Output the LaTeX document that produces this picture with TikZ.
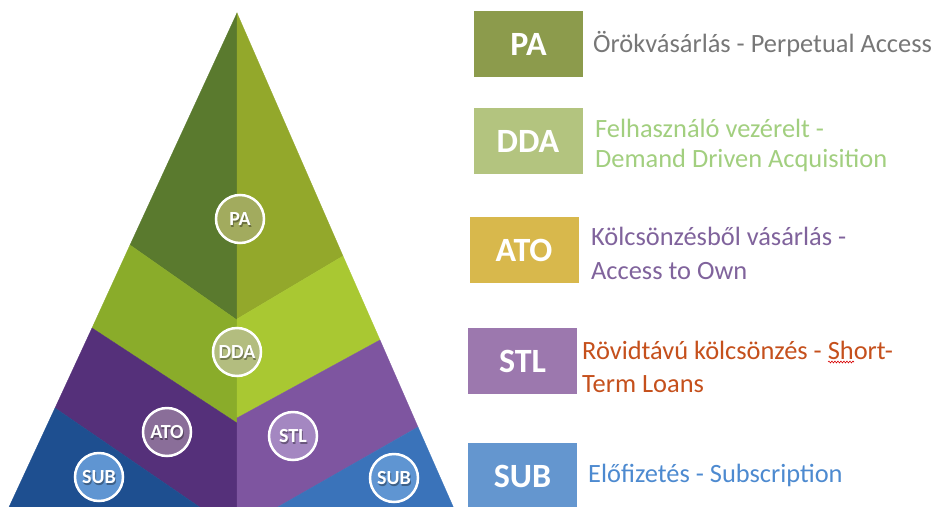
\documentclass[tikz,border=0pt]{standalone}
\usepackage{fontspec}
\setmainfont{Carlito}
\usetikzlibrary{decorations.pathmorphing}
\definecolor{paL}{HTML}{5A7A2E}
\definecolor{paR}{HTML}{93A82B}
\definecolor{ddaL}{HTML}{8AAC2A}
\definecolor{ddaR}{HTML}{A9C832}
\definecolor{atoL}{HTML}{55307A}
\definecolor{stlR}{HTML}{7E55A0}
\definecolor{subL}{HTML}{1E4F90}
\definecolor{subR}{HTML}{3A73BA}
\definecolor{cPA}{HTML}{A2AB5E}
\definecolor{cDDA}{HTML}{B3BD7F}
\definecolor{cATO}{HTML}{8A6E99}
\definecolor{cSTL}{HTML}{A487C1}
\definecolor{cSUB}{HTML}{5F95D2}
\definecolor{bPA}{HTML}{8C9B4C}
\definecolor{bDDA}{HTML}{B3C47F}
\definecolor{bATO}{HTML}{D8B84C}
\definecolor{bSTL}{HTML}{9C78AE}
\definecolor{bSUB}{HTML}{6496CF}
\definecolor{tPA}{HTML}{777777}
\definecolor{tDDA}{HTML}{A2CF7F}
\definecolor{tATO}{HTML}{80639C}
\definecolor{tSTL}{HTML}{C5501C}
\definecolor{tSUB}{HTML}{4D8AD0}
\tikzset{
  facet/.style={fill=#1, draw=#1, line width=0.3pt},
  circlab/.style={circle, draw=white, line width=2.5pt, minimum size=48pt, inner sep=0pt, fill=#1},
  circtxt/.style={inner sep=0pt, font=\fontsize{20}{20}\selectfont\bfseries, text=white},
  circshadow/.style={inner sep=0pt, font=\fontsize{20}{20}\selectfont\bfseries, text=black, opacity=0.35},
  legbox/.style={minimum width=109pt, minimum height=66pt, inner sep=0pt, fill=#1, font=\fontsize{34}{34}\selectfont\bfseries, text=white},
  desc/.style={anchor=base west, inner sep=0pt, font=\fontsize{26.4}{32}\selectfont, text=#1},
  spellmark/.style={red!85!black, line width=0.6pt, decorate, decoration={snake, amplitude=0.9pt, segment length=3pt}}
}
\begin{document}
\begin{tikzpicture}[x=1pt,y=-1pt]
\useasboundingbox (0,0) rectangle (936,506);
\clip (0,0) rectangle (936,506);
\fill[white] (0,0) rectangle (936,506);
% key points
\coordinate (A) at (237,13);
\coordinate (L1) at (130,245);
\coordinate (R1) at (343,256);
\coordinate (L2) at (92,328);
\coordinate (R2) at (380,340);
\coordinate (L3) at (55,408);
\coordinate (R3) at (418,427);
\coordinate (C1L) at (237,320);
\coordinate (C1R) at (237,319);
\coordinate (C2L) at (237,423);
\coordinate (C2R) at (237,418);
\coordinate (BL) at (3,520);
\coordinate (BR) at (459,520);
\coordinate (BM) at (237,520);
\coordinate (BSL) at (218.5,520);
\coordinate (BSR) at (255,520);
% facets
\path[facet=paL] (A) -- (L1) -- (C1L) -- cycle;
\path[facet=paR] (A) -- (C1R) -- (R1) -- cycle;
\path[facet=ddaL] (L1) -- (L2) -- (C2L) -- (C1L) -- cycle;
\path[facet=ddaR] (C1R) -- (C2R) -- (R2) -- (R1) -- cycle;
\path[facet=atoL] (L2) -- (L3) -- (BSL) -- (BM) -- (C2L) -- cycle;
\path[facet=stlR] (C2R) -- (BM) -- (BSR) -- (R3) -- (R2) -- cycle;
\path[facet=subL] (L3) -- (BL) -- (BSL) -- cycle;
\path[facet=subR] (R3) -- (BSR) -- (BR) -- cycle;
% circles
\foreach \n/\c/\x/\y/\t in {cpa/cPA/240/219/PA, cdda/cDDA/237/352/DDA, cato/cATO/167/432/ATO, cstl/cSTL/293/436/STL, csubl/cSUB/99/477/SUB, csubr/cSUB/394/478/SUB}{
  \node[circlab=\c] (\n) at (\x,\y) {};
  \node[circshadow] (\n s) at ([shift={(0.9,1.7)}]\n) {\t};
  \node[circtxt] (\n t) at (\n) {\t};
}
% legend boxes
\node[legbox=bPA] (bpa) at (528.5,44) {PA};
\node[legbox=bDDA] (bdda) at (528,141) {DDA};
\node[legbox=bATO] (bato) at (524,250) {ATO};
\node[legbox=bSTL] (bstl) at (522.5,361) {STL};
\node[legbox=bSUB] (bsub) at (522.5,476) {SUB};
% descriptions
\node[desc=tPA] (dpa) at (593,52) {Örökvásárlás - Perpetual Access};
\node[desc=tDDA] (dda1) at (595,137) {Felhasználó vezérelt -};
\node[desc=tDDA] (dda2) at (595,167) {Demand Driven Acquisition};
\node[desc=tATO] (dato1) at (591,245) {Kölcsönzésből vásárlás -};
\node[desc=tATO] (dato2) at (591,279) {Access to Own};
\node[desc=tSTL] (dstl1) at (582,359) {Rövidtávú kölcsönzés - Short-};
\node[desc=tSTL] (dstl2) at (582,392) {Term Loans};
\node[desc=tSUB] (dsub) at (588,482) {Előfizetés - Subscription};
\coordinate (sh1) at (828,362);
\coordinate (sh2) at (854,362);
\draw[spellmark] (sh1) -- (sh2);
\end{tikzpicture}
\end{document}
